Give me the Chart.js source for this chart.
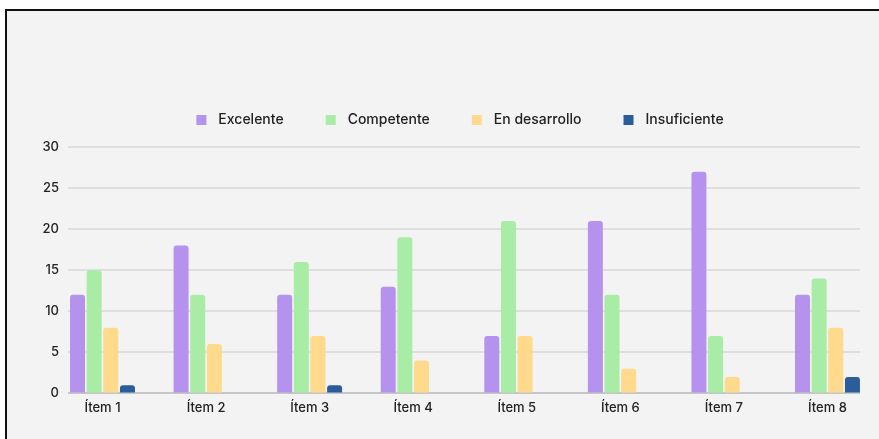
<!DOCTYPE html>
<html>
<head>
<meta charset="utf-8">
<script src="https://cdn.jsdelivr.net/npm/chart.js@4/dist/chart.umd.min.js"></script>
<style>
  body { margin: 0; background: #fff; }
  #cadre { position: absolute; left: 5px; top: 9px; width: 900px; height: 460px;
           background: #f3f3f3; border-top: 2px solid #111; border-left: 2px solid #111; }
  #zone { position: absolute; left: 0; top: 0; width: 879px; height: 439px; }
</style>
</head>
<body>
<div id="cadre"></div>
<div id="zone"><canvas id="graphItems"></canvas></div>
<script>
const items = ["Ítem 1", "Ítem 2", "Ítem 3", "Ítem 4", "Ítem 5", "Ítem 6", "Ítem 7", "Ítem 8"];
const excelente = [12, 18, 12, 13, 7, 21, 27, 12];
const competente = [15, 12, 16, 19, 21, 12, 7, 14];
const enDesarrollo = [8, 6, 7, 4, 7, 3, 2, 8];
const insuficiente = [1, 0, 1, 0, 0, 0, 0, 2];
const yTicks = [0, 5, 10, 15, 20, 25, 30];

const couleurs = ['#b592ee', '#a8eca5', '#ffda8c', '#2c5d9b'];

// petit carré de légende avec marge à gauche pour espacer les entrées
function pastille(couleur) {
    const c = document.createElement('canvas');
    c.width = 35; c.height = 10;
    const g = c.getContext('2d');
    g.fillStyle = couleur;
    g.fillRect(20, 0, 10, 10);
    return c;
}
const pastilles = couleurs.map(pastille);

// espace supplémentaire sous la légende
const margeLegende = {
    id: 'margeLegende',
    beforeInit(chart) {
        const fitOrig = chart.legend.fit;
        chart.legend.fit = function () {
            fitOrig.call(this);
            this.height += 10;
        };
    }
};

function serie(label, valeurs, i) {
    return {
        label: label,
        data: valeurs.map((v, idx) => ({ x: idx, y: v })),
        backgroundColor: couleurs[i],
        borderRadius: 3,
        borderSkipped: 'start',
        categoryPercentage: 0.643,
        barPercentage: 0.9
    };
}

const police = { family: 'Inter, "Open Sans", sans-serif', size: 13, weight: 500 };

new Chart(document.getElementById('graphItems').getContext('2d'), {
    type: 'bar',
    data: {
        datasets: [
            serie('Excelente', excelente, 0),
            serie('Competente', competente, 1),
            serie('En desarrollo', enDesarrollo, 2),
            serie('Insuficiente', insuficiente, 3)
        ]
    },
    plugins: [margeLegende],
    options: {
        responsive: true,
        maintainAspectRatio: false,
        animation: false,
        events: [],
        layout: { padding: { top: 91, left: 40, right: 19, bottom: 16 } },
        plugins: {
            tooltip: { enabled: false },
            legend: {
                position: 'top',
                labels: {
                    usePointStyle: true,
                    pointStyleWidth: 35,
                    boxHeight: 10,
                    padding: 22,
                    color: '#222',
                    font: { family: police.family, size: 14, weight: 500 },
                    generateLabels: chart => Chart.defaults.plugins.legend.labels.generateLabels(chart)
                        .map((l, i) => Object.assign(l, { pointStyle: pastilles[i] }))
                }
            }
        },
        scales: {
            x: {
                type: 'linear',
                offset: false,
                min: -0.333,
                max: 7.314,
                grid: { display: false, drawTicks: false },
                border: { display: false },
                ticks: {
                    stepSize: 1,
                    includeBounds: false,
                    autoSkip: false,
                    maxRotation: 0,
                    padding: 7,
                    color: '#222',
                    font: police,
                    callback: v => items[v]
                }
            },
            y: {
                min: 0,
                max: 30,
                afterFit: scale => { scale.width = 28; },
                afterBuildTicks: scale => { scale.ticks = yTicks.map(v => ({ value: v })); },
                border: { display: false },
                grid: {
                    drawTicks: false,
                    lineWidth: 2,
                    color: ctx => ctx.tick && ctx.tick.value === 0 ? '#c6c6c6' : '#dedede'
                },
                ticks: {
                    padding: 9,
                    color: '#222',
                    font: police
                }
            }
        }
    }
});
</script>
</body>
</html>
